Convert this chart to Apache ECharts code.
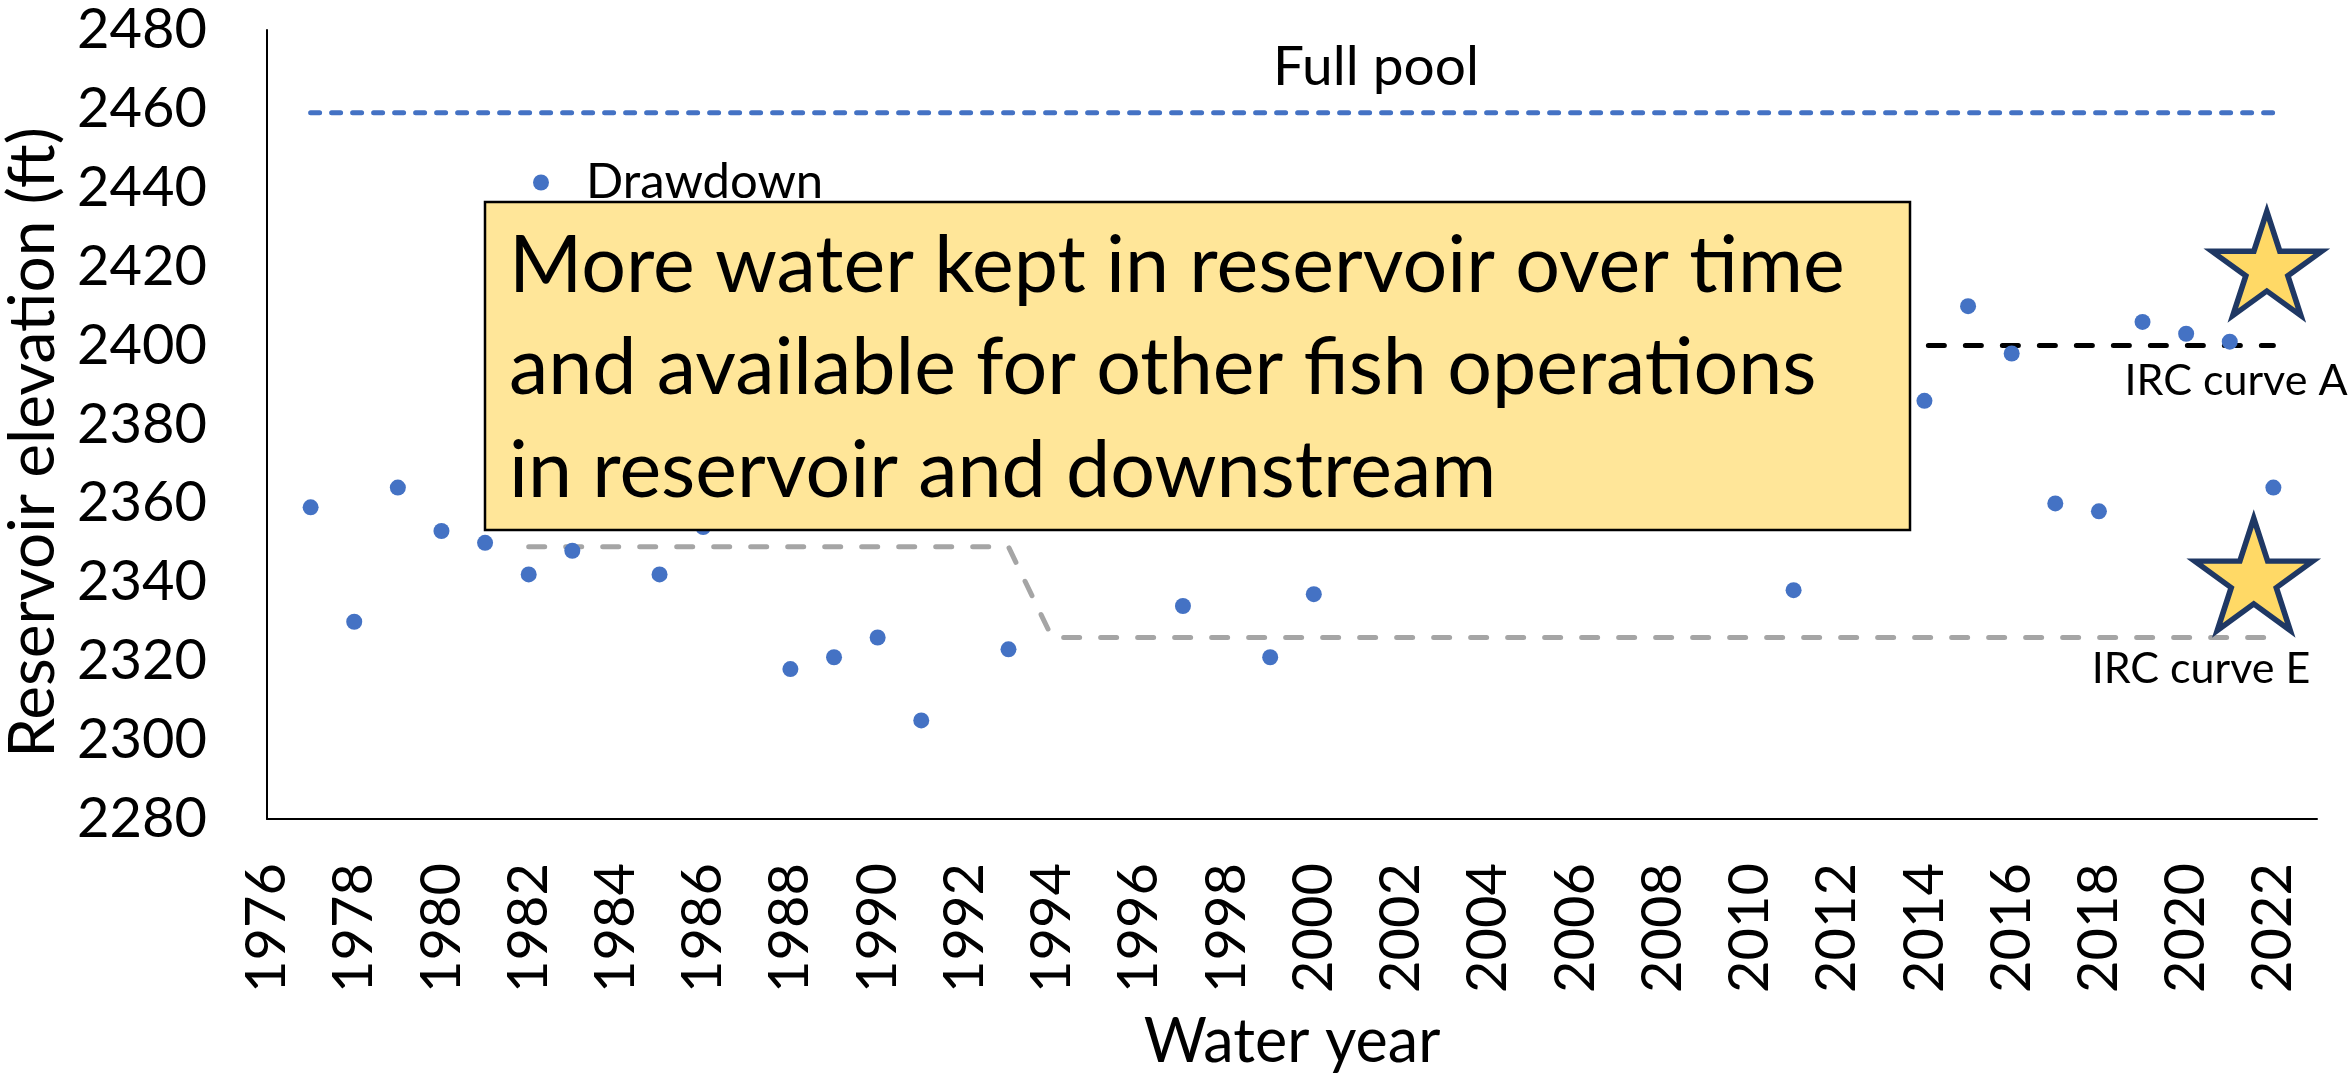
<!DOCTYPE html>
<html><head><meta charset="utf-8">
<script src="https://cdn.jsdelivr.net/npm/echarts@6/dist/echarts.min.js"></script>
<style>html,body{margin:0;padding:0;background:#fff}#c{width:2348px;height:1076px}</style>
</head><body><div id="c"></div>
<script>
// ---- data ----
const years = [1977, 1978, 1979, 1980, 1981, 1982, 1983, 1985, 1986, 1988, 1989, 1990, 1991, 1993,
               1997, 1999, 2000, 2011, 2014, 2015, 2016, 2017, 2018, 2019, 2020, 2021, 2022];
const drawdown = [2359, 2330, 2364, 2353, 2350, 2342, 2348, 2342, 2354, 2318, 2321, 2326, 2305, 2323,
                  2334, 2321, 2337, 2338, 2386, 2410, 2398, 2360, 2358, 2406, 2403, 2401, 2364];
const fullPoolYears = [1977, 2022];
const fullPoolValues = [2459, 2459];
const ircAYears = [2009, 2022];
const ircAValues = [2400, 2400];
const ircEYears = [1982, 1993, 1994, 2022];
const ircEValues = [2349, 2349, 2326, 2326];
const starYears = [2021.85, 2021.55];
const starValues = [2420.8, 2342];
const xRange = [1976, 2023];
const yRange = [2280, 2480];
const noteLines = ['More water kept in reservoir over time',
                   'and available for other fish operations',
                   'in reservoir and downstream'];

const pairs = (xs, ys) => xs.map((x, i) => [x, ys[i]]);
const FONT = 'Lato';
const STAR = 'path://M951 0 L1175.5 691 L1902.1 691 L1314.3 1118 L1538.8 1809 L951 1382 L363.2 1809 L587.7 1118 L0 691 L726.5 691 Z';

const chart = echarts.init(document.getElementById('c'));
chart.setOption({
  animation: false,
  backgroundColor: '#fff',
  textStyle: { fontFamily: FONT },
  grid: { left: 267, right: 31, top: 30, bottom: 257, containLabel: false, outerBoundsMode: 'none' },
  legend: {
    data: ['Drawdown'], left: 533, top: 158, padding: 0,
    itemWidth: 80, itemHeight: 16,
    textStyle: { fontFamily: FONT, fontSize: 49, color: '#000' }
  },
  xAxis: {
    type: 'value', min: xRange[0], max: xRange[1], interval: 2,
    name: 'Water year', nameLocation: 'middle', nameGap: 193,
    nameTextStyle: { fontFamily: FONT, fontSize: 61, color: '#000' },
    axisLine: { show: true, onZero: false, lineStyle: { color: '#000', width: 2 } },
    axisTick: { show: false }, splitLine: { show: false },
    axisLabel: { rotate: 90, margin: 44, fontFamily: FONT, fontSize: 56, color: '#000',
      formatter: v => (v % 2 === 0 ? String(v) : '') }
  },
  yAxis: {
    type: 'value', min: yRange[0], max: yRange[1], interval: 20,
    name: 'Reservoir elevation (ft)', nameLocation: 'middle', nameGap: 202,
    nameTextStyle: { fontFamily: FONT, fontSize: 64, color: '#000', padding: [0, 36, 0, 0] },
    axisLine: { show: true, lineStyle: { color: '#000', width: 2 } },
    axisTick: { show: false }, splitLine: { show: false },
    axisLabel: { margin: 60, fontFamily: FONT, fontSize: 56, color: '#000', formatter: v => String(v) }
  },
  series: [
    { name: 'Full pool', type: 'line', data: pairs(fullPoolYears, fullPoolValues), symbol: 'none', silent: true, z: 1,
      lineStyle: { color: '#4472C4', width: 5, type: [9, 12], cap: 'round' } },
    { name: 'IRC curve A', type: 'line', data: pairs(ircAYears, ircAValues), symbol: 'none', silent: true, z: 1,
      lineStyle: { color: '#000', width: 5, type: [16, 21], cap: 'round' } },
    { name: 'IRC curve E', type: 'line', data: pairs(ircEYears, ircEValues), symbol: 'none', silent: true, z: 1,
      lineStyle: { color: '#A5A5A5', width: 5, type: [16, 21], cap: 'round' } },
    { name: 'Drawdown', type: 'scatter', data: pairs(years, drawdown), symbol: 'circle', symbolSize: 16, z: 3,
      itemStyle: { color: '#4472C4', opacity: 1 } },
    { name: 'Stars', type: 'scatter', data: [[starYears[0], starValues[0]]], symbol: STAR, symbolSize: [110, 104], z: 4,
      itemStyle: { color: '#FFD966', borderColor: '#1F3864', borderWidth: 5.5, opacity: 1 } },
    { name: 'Stars2', type: 'scatter', data: [[starYears[1], starValues[1]]], symbol: STAR, symbolSize: [118, 112], z: 4,
      itemStyle: { color: '#FFD966', borderColor: '#1F3864', borderWidth: 5.5, opacity: 1 } }
  ],
  graphic: [
    { type: 'rect', z: 100, shape: { x: 485, y: 202, width: 1425, height: 328 },
      style: { fill: '#FFE699', stroke: '#000', lineWidth: 2.5 } },
    { type: 'text', z: 101, x: 509, y: 215,
      style: { text: noteLines.join('\n'), font: '79px Lato', fill: '#000', lineHeight: 102.5,
        textAlign: 'left', textVerticalAlign: 'top' } },
    { type: 'text', z: 101, x: 1376, y: 67,
      style: { text: 'Full pool', font: '55px Lato', fill: '#000', textAlign: 'center', textVerticalAlign: 'middle' } },
    { type: 'text', z: 101, x: 2236, y: 381,
      style: { text: 'IRC curve A', font: '43px Lato', fill: '#000', textAlign: 'center', textVerticalAlign: 'middle' } },
    { type: 'text', z: 101, x: 2201, y: 669,
      style: { text: 'IRC curve E', font: '43px Lato', fill: '#000', textAlign: 'center', textVerticalAlign: 'middle' } }
  ]
});
</script></body></html>
